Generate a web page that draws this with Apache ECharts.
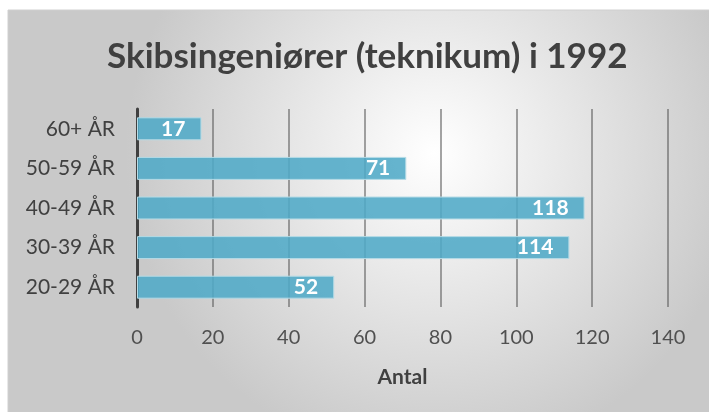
<!DOCTYPE html>
<html>
<head>
<meta charset="utf-8">
<script src="https://cdn.jsdelivr.net/npm/echarts@6/dist/echarts.min.js"></script>
<style>
  html, body { margin: 0; padding: 0; background: #fff; }
  #chart { width: 709px; height: 412px; }
</style>
</head>
<body>
<div id="chart"></div>
<script>
// data, bottom to top as ECharts draws a category y-axis
const categories = ['20-29 ÅR', '30-39 ÅR', '40-49 ÅR', '50-59 ÅR', '60+ ÅR']
const antal = [52, 114, 118, 71, 17]
const titleText = 'Skibsingeniører (teknikum) i 1992'
const axisName = 'Antal'

const font = 'Lato, "Open Sans", sans-serif'
const chart = echarts.init(document.getElementById('chart'))

chart.setOption({
  backgroundColor: '#fff',
  textStyle: { fontFamily: font },
  graphic: [
    {
      type: 'rect',
      z: -10,
      shape: { x: 8, y: 10, width: 710, height: 410 },
      style: {
        fill: new echarts.graphic.RadialGradient(0.6, 0.35, 0.75, [
          { offset: 0, color: '#ffffff' },
          { offset: 1, color: '#c9c9c9' }
        ]),
        stroke: '#d0d0d0',
        lineWidth: 1
      },
      silent: true
    }
  ],
  title: {
    text: titleText,
    left: 102,
    top: 34,
    textStyle: {
      fontFamily: font,
      fontSize: 35,
      fontWeight: 'bold',
      color: '#404040'
    }
  },
  grid: {
    left: 137,
    right: 41,
    top: 109,
    bottom: 105
  },
  xAxis: {
    type: 'value',
    min: 0,
    max: 140,
    interval: 20,
    name: axisName,
    nameLocation: 'middle',
    nameGap: 60,
    nameTextStyle: {
      fontFamily: font,
      fontSize: 21,
      fontWeight: 'bold',
      color: '#404040'
    },
    axisLine: { show: false },
    axisTick: { show: false },
    axisLabel: {
      fontFamily: font,
      fontSize: 20,
      color: '#505050',
      margin: 21
    },
    splitLine: {
      lineStyle: { color: 'rgba(90,90,90,0.55)', width: 2 }
    }
  },
  yAxis: {
    type: 'category',
    data: categories,
    axisLine: { lineStyle: { color: '#404040', width: 3 } },
    axisTick: { show: false },
    axisLabel: {
      fontFamily: font,
      fontSize: 21,
      color: '#404040',
      margin: 22
    }
  },
  series: [
    {
      type: 'bar',
      data: antal,
      barWidth: '58%',
      itemStyle: {
        color: 'rgba(80,170,199,0.88)',
        borderColor: '#b5dbe6',
        borderWidth: 1
      },
      label: {
        show: true,
        position: 'insideRight',
        distance: 16,
        fontFamily: font,
        fontSize: 21,
        fontWeight: 'bold',
        color: '#fff'
      }
    }
  ]
})
</script>
</body>
</html>
